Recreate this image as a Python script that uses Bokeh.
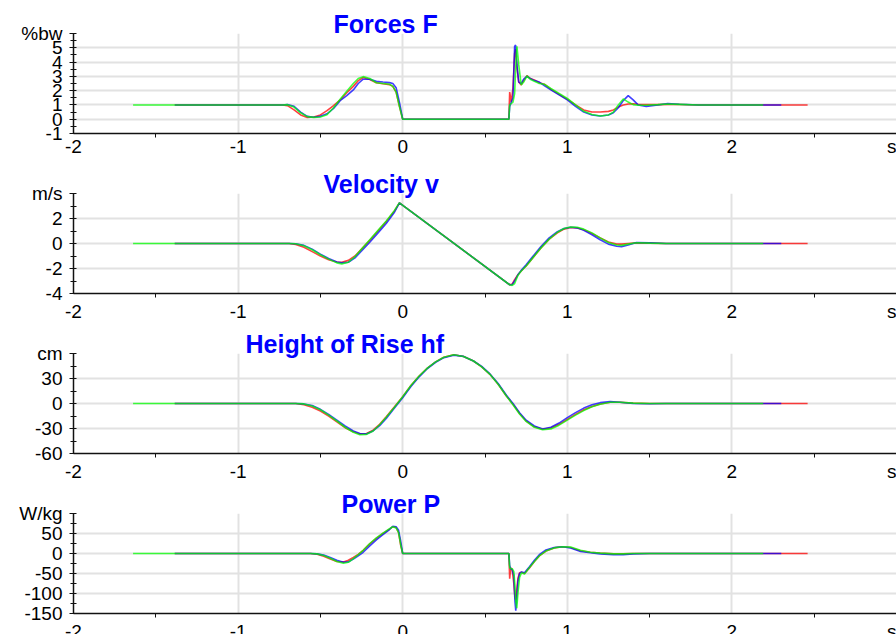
from bokeh.plotting import figure
from bokeh.layouts import column
from bokeh.models import Range1d, FixedTicker
from bokeh.embed import file_html
from bokeh.resources import INLINE

# ---------------- data ----------------
series_colors = ["#FF0000", "#0000FF", "#00FF00"]   # red, blue, green
t_first = [-1.385, -1.385, -1.638]
t_last = [2.46, 2.30, 2.19]

x_ticks = [-2, -1, 0, 1, 2, 3]
x_minor = [-1.5, -0.5, 0.5, 1.5, 2.5]
x_labels = ["-2", "-1", "0", "1", "2", "s"]

# Forces F (%bw)
force_t = [-0.73, -0.70, -0.66, -0.62, -0.58, -0.54, -0.50, -0.46, -0.42, -0.38, -0.34, -0.30, -0.27,
           -0.24, -0.20, -0.16, -0.12, -0.08, -0.06, -0.04, -0.02, 0.00, 0.645, 0.650, 0.660, 0.670,
           0.680, 0.686, 0.694, 0.705, 0.720, 0.735, 0.755, 0.775, 0.80, 0.83, 0.86, 0.90, 0.95, 1.00,
           1.05, 1.10, 1.15, 1.20, 1.25, 1.28, 1.31, 1.34, 1.37, 1.40, 1.43, 1.48, 1.55, 1.61, 1.68, 1.80]
force_red = [1.0, 0.95, 0.65, 0.3, 0.12, 0.15, 0.3, 0.6, 0.95, 1.35, 1.85, 2.3, 2.7,
             2.92, 2.78, 2.55, 2.48, 2.42, 2.3, 1.9, 0.9, 0.0, 0.0, 1.9, 1.2, 2.2,
             4.6, 4.9, 3.6, 2.6, 2.4, 2.7, 3.05, 2.85, 2.75, 2.55, 2.45, 2.1, 1.75, 1.4,
             1.0, 0.65, 0.5, 0.5, 0.55, 0.65, 0.85, 1.0, 1.07, 1.08, 1.05, 1.02, 1.02, 1.04, 1.03, 1.0]
force_blue = [1.0, 1.03, 0.9, 0.5, 0.2, 0.14, 0.2, 0.38, 0.75, 1.3, 1.65, 2.05, 2.5,
              2.8, 2.8, 2.65, 2.6, 2.56, 2.5, 2.2, 1.2, 0.0, 0.0, 0.9, 1.2, 1.5,
              5.1, 5.2, 3.8, 2.6, 2.5, 2.8, 3.0, 2.85, 2.7, 2.6, 2.35, 2.05, 1.7, 1.35,
              0.9, 0.5, 0.3, 0.22, 0.3, 0.45, 0.8, 1.3, 1.65, 1.35, 1.0, 0.9, 1.0, 1.1, 1.05, 1.0]
force_green = [1.0, 1.02, 0.85, 0.45, 0.18, 0.13, 0.15, 0.32, 0.8, 1.4, 1.95, 2.5, 2.85,
               2.98, 2.85, 2.55, 2.5, 2.45, 2.3, 1.9, 0.9, 0.0, 0.0, 1.0, 1.1, 1.2,
               1.8, 3.5, 5.1, 3.8, 2.4, 2.6, 3.03, 2.8, 2.65, 2.5, 2.45, 2.15, 1.8, 1.45,
               1.0, 0.55, 0.33, 0.22, 0.3, 0.5, 1.0, 1.42, 1.2, 1.02, 0.98, 0.98, 1.02, 1.06, 1.04, 1.0]
force_start = [1.0, 1.0, 1.0]
force_end = [1.0, 1.0, 1.0]

# Velocity v (m/s)
vel_t = [-0.69, -0.65, -0.60, -0.55, -0.50, -0.45, -0.40, -0.37, -0.33, -0.29, -0.25, -0.20, -0.15,
         -0.10, -0.05, -0.02, 0.65, 0.665, 0.68, 0.70, 0.72, 0.75, 0.79, 0.84, 0.89, 0.94, 0.98,
         1.02, 1.06, 1.10, 1.15, 1.20, 1.25, 1.30, 1.33, 1.37, 1.42, 1.50, 1.60]
vel_red = [0.0, -0.08, -0.3, -0.65, -1.0, -1.3, -1.48, -1.5, -1.35, -1.0, -0.45, 0.25, 1.0,
           1.75, 2.6, 3.25, -3.3, -3.25, -2.9, -2.5, -2.2, -1.8, -1.15, -0.35, 0.35, 0.85, 1.15,
           1.28, 1.25, 1.1, 0.8, 0.45, 0.12, -0.05, -0.05, 0.0, 0.05, 0.03, 0.0]
vel_blue = [0.0, -0.02, -0.15, -0.45, -0.85, -1.2, -1.48, -1.55, -1.5, -1.15, -0.6, 0.1, 0.85,
            1.6, 2.5, 3.25, -3.3, -3.3, -3.0, -2.5, -2.15, -1.7, -1.05, -0.25, 0.45, 0.95, 1.2,
            1.3, 1.25, 1.05, 0.7, 0.3, -0.05, -0.22, -0.25, -0.12, 0.08, 0.05, 0.0]
vel_green = [0.0, -0.02, -0.18, -0.5, -0.9, -1.25, -1.55, -1.63, -1.5, -1.05, -0.45, 0.3, 1.05,
             1.8, 2.65, 3.25, -3.3, -3.35, -3.2, -2.55, -2.2, -1.8, -1.15, -0.35, 0.35, 0.9, 1.2,
             1.32, 1.3, 1.15, 0.85, 0.45, 0.08, -0.12, -0.15, -0.05, 0.06, 0.03, 0.0]
vel_start = [0.0, 0.0, 0.0]
vel_end = [0.0, 0.0, 0.0]

# Height of Rise hf (cm)
hgt_t = [-0.65, -0.60, -0.55, -0.50, -0.45, -0.40, -0.35, -0.30, -0.26, -0.22, -0.18, -0.14, -0.10,
         -0.05, 0.00, 0.05, 0.10, 0.15, 0.20, 0.25, 0.31, 0.37, 0.43, 0.48, 0.53, 0.58, 0.63, 0.67,
         0.71, 0.75, 0.80, 0.85, 0.90, 0.95, 1.00, 1.05, 1.10, 1.15, 1.20, 1.26, 1.32, 1.40, 1.50, 1.60]
hgt_red = [0.0, -1.5, -4.5, -9.0, -15.0, -22.0, -29.0, -34.0, -36.5, -36.0, -32.0, -25.0, -16.0,
           -4.0, 8.0, 21.5, 33.0, 42.5, 50.0, 55.5, 58.5, 56.5, 51.0, 44.0, 35.0, 23.0, 9.0, -1.0,
           -12.0, -21.0, -28.0, -31.0, -29.5, -25.0, -19.0, -13.0, -7.5, -3.5, -0.5, 1.5, 1.5, 0.5, 0.0, 0.0]
hgt_blue = [0.0, -0.5, -2.5, -7.0, -13.0, -20.0, -27.0, -33.0, -36.0, -36.5, -33.0, -26.5, -18.0,
            -5.5, 7.0, 20.5, 32.0, 42.0, 49.5, 55.0, 58.0, 56.5, 51.0, 44.5, 35.5, 24.0, 10.0, 0.0,
            -11.0, -20.0, -27.0, -30.5, -28.5, -23.5, -17.0, -11.0, -5.5, -1.5, 1.0, 2.2, 1.5, 0.0, -0.3, 0.0]
hgt_green = [0.0, -0.5, -3.0, -7.5, -14.0, -21.0, -28.5, -34.5, -37.5, -37.0, -33.0, -25.5, -16.5,
             -4.5, 8.0, 21.5, 33.0, 42.5, 50.0, 55.5, 58.5, 56.5, 51.0, 44.0, 35.0, 23.0, 9.0, -1.5,
             -12.5, -21.5, -28.5, -31.5, -30.5, -26.0, -20.0, -14.0, -8.5, -4.0, -1.0, 1.5, 1.5, 0.5, 0.0, 0.0]
hgt_start = [0.0, 0.0, 0.0]
hgt_end = [0.0, 0.0, 0.0]

# Power P (W/kg)
pow_t = [-0.56, -0.52, -0.48, -0.44, -0.40, -0.36, -0.33, -0.30, -0.27, -0.24, -0.20, -0.16, -0.12,
         -0.08, -0.06, -0.04, -0.025, -0.012, 0.0, 0.645, 0.650, 0.656, 0.665, 0.675, 0.682, 0.687,
         0.693, 0.700, 0.710, 0.722, 0.74, 0.77, 0.80, 0.83, 0.87, 0.92, 0.97, 1.02, 1.08, 1.14,
         1.20, 1.28, 1.34, 1.40, 1.50]
pow_red = [0, -2, -7, -14, -20, -21, -17, -10, -2, 8, 24, 38, 50,
           61, 67, 65, 52, 20, 0, 0, -63, -36, -40, -75, -110, -116,
           -90, -62, -48, -47, -50, -36, -20, -6, 6, 14, 17, 15, 7, 3,
           1, -1, -1, 0, 0]
pow_blue = [0, -1, -4, -10, -17, -22, -21, -14, -6, 3, 19, 34, 47,
            60, 68, 67, 58, 30, 0, 0, -30, -38, -40, -55, -120, -143,
            -110, -70, -50, -46, -48, -33, -17, -3, 9, 15, 17, 14, 5, 2,
            -1, -3, -3, -1, 0]
pow_green = [0, -1, -5, -12, -20, -24.5, -22, -13, -3, 8, 25, 39, 51,
             62, 67, 64, 52, 22, 0, 0, -35, -38, -38, -45, -80, -120,
             -137, -100, -60, -48, -51, -35, -20, -6, 6, 14, 17, 16, 8, 3,
             1, -1, -1, 0, 0]
pow_start = [0.0, 0.0, 0.0]
pow_end = [0.0, 0.0, 0.0]

# tick labels of each y axis; the top tick carries the unit
force_ticks = [-1, 0, 1, 2, 3, 4, 5, 6]
force_labels = ["-1", "0", "1", "2", "3", "4", "5", "%bw"]
vel_ticks = [-4, -2, 0, 2, 4]
vel_labels = ["-4", "-2", "0", "2", "m/s"]
hgt_ticks = [-60, -30, 0, 30, 60]
hgt_labels = ["-60", "-30", "0", "30", "cm"]
pow_ticks = [-150, -100, -50, 0, 50, 100]
pow_labels = ["-150", "-100", "-50", "0", "50", "W/kg"]

panels = [
    dict(title="Forces F", yr=(-1, 6), yt=force_ticks, ylab=force_labels,
         ym=[-0.5, 0.5, 1.5, 2.5, 3.5, 4.5, 5.5], t=force_t,
         vals=[force_red, force_blue, force_green], start=force_start, end=force_end,
         top=33, title_off=260, xstand=-2),
    dict(title="Velocity v", yr=(-4, 4), yt=vel_ticks, ylab=vel_labels,
         ym=[-3, -1, 1, 3], t=vel_t,
         vals=[vel_red, vel_blue, vel_green], start=vel_start, end=vel_end,
         top=28, title_off=250, xstand=3),
    dict(title="Height of Rise hf", yr=(-60, 60), yt=hgt_ticks, ylab=hgt_labels,
         ym=[-45, -15, 15, 45], t=hgt_t,
         vals=[hgt_red, hgt_blue, hgt_green], start=hgt_start, end=hgt_end,
         top=28, title_off=172, xstand=3),
    dict(title="Power P", yr=(-150, 100), yt=pow_ticks, ylab=pow_labels,
         ym=[-125, -75, -25, 25, 75], t=pow_t,
         vals=[pow_red, pow_blue, pow_green], start=pow_start, end=pow_end,
         top=28, title_off=268, xstand=3),
]

FONT = "Liberation Sans"
LEFT = 73
FRAME_W = 896 - LEFT
X0, X1 = -2, 3

figs = []
for cfg in panels:
    p = figure(frame_width=FRAME_W, frame_height=100, min_border_left=LEFT, min_border_right=0,
               min_border_top=cfg["top"], min_border_bottom=32,
               x_range=Range1d(X0, X1), y_range=Range1d(*cfg["yr"]),
               output_backend="svg", toolbar_location=None)
    p.outline_line_color = None
    p.background_fill_color = "white"
    p.border_fill_color = "white"

    p.title.text = cfg["title"]
    p.title.align = "left"
    p.title.offset = cfg["title_off"]
    p.title.vertical_align = "bottom"
    p.title.standoff = -9
    p.title.text_font = FONT
    p.title.text_font_size = "25px"
    p.title.text_font_style = "bold"
    p.title.text_color = "#0000FF"

    xt = FixedTicker(ticks=x_ticks, minor_ticks=x_minor)
    yt = FixedTicker(ticks=cfg["yt"], minor_ticks=cfg["ym"])
    p.xaxis.ticker = xt
    p.yaxis.ticker = yt
    p.xgrid.ticker = xt
    p.ygrid.ticker = yt
    p.grid.grid_line_color = "#e2e2e2"
    p.grid.grid_line_width = 2

    p.xaxis.major_label_overrides = dict(zip(x_ticks, x_labels))
    p.yaxis.major_label_overrides = dict(zip(cfg["yt"], cfg["ylab"]))
    for ax in (p.xaxis[0], p.yaxis[0]):
        ax.axis_line_color = "#111111"
        ax.axis_line_width = 1.5
        ax.major_tick_line_color = "#111111"
        ax.minor_tick_line_color = "#111111"
        ax.major_label_text_font = FONT
        ax.major_label_text_font_size = "19px"
        ax.major_label_text_color = "#000000"
    p.xaxis.major_tick_out = 0
    p.xaxis.major_tick_in = 0
    p.xaxis.minor_tick_out = 4
    p.xaxis.minor_tick_in = 0
    p.xaxis.major_label_standoff = cfg["xstand"]
    p.yaxis.major_tick_out = 4
    p.yaxis.major_tick_in = 3
    p.yaxis.minor_tick_out = 3
    p.yaxis.minor_tick_in = 3
    p.yaxis.major_label_standoff = 7

    for i in range(3):
        ts = [t_first[i]] + cfg["t"] + [t_last[i]]
        ys = [cfg["start"][i]] + cfg["vals"][i] + [cfg["end"][i]]
        p.line(ts, ys, line_color=series_colors[i], line_width=1.6, line_alpha=0.75)
    figs.append(p)

layout = column(*figs, spacing=0)
open("out.html", "w").write(file_html(layout, INLINE))
